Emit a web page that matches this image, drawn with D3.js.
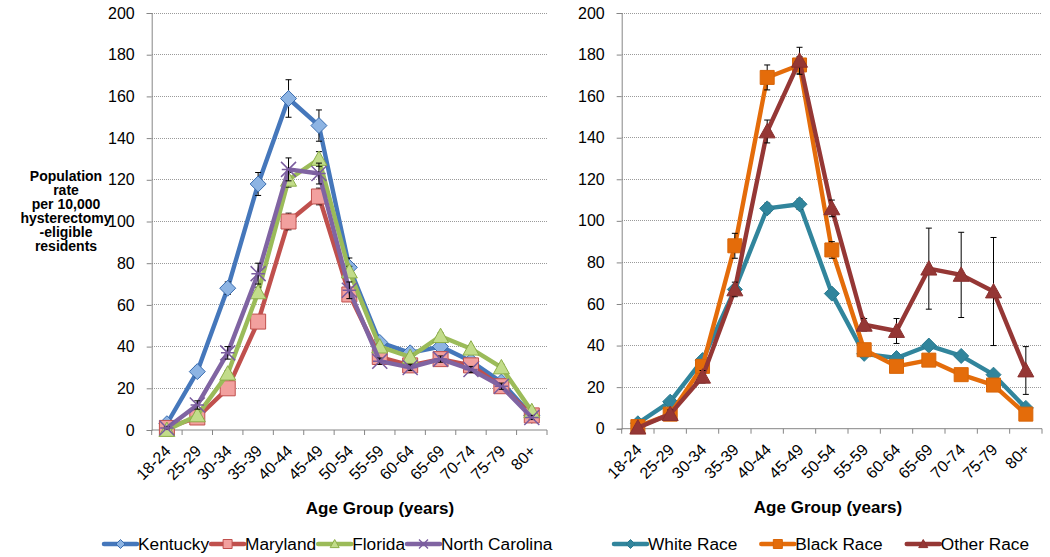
<!DOCTYPE html>
<html>
<head>
<meta charset="utf-8">
<script src="https://cdn.jsdelivr.net/npm/d3@7"></script>
<style>
  html, body { margin: 0; padding: 0; background: #fff; }
  svg { display: block; font-family: "Liberation Sans", Arial, sans-serif; }
</style>
</head>
<body>
<svg id="chart" width="1050" height="557"></svg>
<script>
// ---------------- DATA ----------------
const ageGroups = ["18-24","25-29","30-34","35-39","40-44","45-49","50-54","55-59","60-64","65-69","70-74","75-79","80+"];
const yTicks = [0, 20, 40, 60, 80, 100, 120, 140, 160, 180, 200];

const kentucky      = [3, 28, 68, 118, 159, 146, 78, 42, 37, 40, 33, 23, 7];
const maryland      = [1, 6, 20, 52, 100, 112, 65, 35, 31, 34, 31, 21, 7];
const florida       = [0, 7, 27, 66, 120, 130, 76, 40, 35, 45, 39, 30, 9];
const northCarolina = [1, 12, 37, 75, 125, 123, 67, 33, 30, 34, 29, 21, 6];

const kentuckyErr      = [1, 2.5, 3, 5.5, 9, 7.5, 4.5, 2, 2, 2, 2, 1.5, 1];
const marylandErr      = [0.5, 1, 2, 3, 4, 4, 3, 1.5, 1.5, 1.5, 1.5, 1.5, 1];
const floridaErr       = [0.5, 1, 1.5, 2.5, 3.5, 3.5, 2.5, 1.5, 1.5, 1.5, 1.5, 1.5, 0.5];
const northCarolinaErr = [0.5, 2, 3, 5, 5.5, 5, 4, 1.5, 1.5, 1.5, 1.5, 1.5, 1];

const whiteRace = [2.6, 13, 33, 67, 106, 108, 65, 36, 34, 40, 35, 26, 10];
const blackRace = [1, 7, 30, 88, 169, 175, 86, 38, 30, 33, 26, 21, 7];
const otherRace = [0.5, 7, 25, 67, 143, 177, 106, 50, 47, 77, 74, 66, 28];

const whiteRaceErr = [0.5, 1, 1.5, 2, 2.5, 2.5, 2, 1, 1, 1.5, 1.5, 1, 0.5];
const blackRaceErr = [0.5, 1.5, 2.5, 6, 6, 4, 4, 2, 2, 2.5, 2.5, 2.5, 1.5];
const otherRaceErr = [0.5, 2, 3, 3.5, 5.5, 6.5, 4, 3, 6, 19.5, 20.5, 26, 11.5];

const yAxisTitleLines = ["Population", "rate", "per 10,000", "hysterectomy", "-eligible", "residents"];
const xAxisTitle = "Age Group (years)";

// ---------------- STYLES ----------------
const leftSeries = [
  {name: "Kentucky", values: kentucky, err: kentuckyErr, line: "#4577BB", fill: "#8DB4E3", stroke: "#3A6DB0", shape: "diamond", size: 8},
  {name: "Maryland", values: maryland, err: marylandErr, line: "#C0504D", fill: "#F2A09E", stroke: "#C0504D", shape: "square", size: 7.5},
  {name: "Florida", values: florida, err: floridaErr, line: "#9BBB59", fill: "#C2DC8A", stroke: "#8CAE48", shape: "triangle", size: 8},
  {name: "North Carolina", values: northCarolina, err: northCarolinaErr, line: "#8064A2", fill: "none", stroke: "#7A5C9E", shape: "x", size: 7.5}
];
const rightSeries = [
  {name: "White Race", values: whiteRace, err: whiteRaceErr, line: "#31859C", fill: "#31859C", stroke: "#2A7A90", shape: "diamond", size: 7.5},
  {name: "Black Race", values: blackRace, err: blackRaceErr, line: "#E46C0A", fill: "#E46C0A", stroke: "#D86508", shape: "square", size: 7},
  {name: "Other Race", values: otherRace, err: otherRaceErr, line: "#953735", fill: "#953735", stroke: "#8A302E", shape: "triangle", size: 8}
];

const svg = d3.select("#chart");
svg.append("rect").attr("width", 1050).attr("height", 557).attr("fill", "#fff");

function markerPath(shape, s) {
  switch (shape) {
    case "diamond": return `M0,${-s}L${s},0L0,${s}L${-s},0Z`;
    case "square": return `M${-s},${-s}H${s}V${s}H${-s}Z`;
    case "triangle": return `M0,${-s}L${s},${s*0.8}L${-s},${s*0.8}Z`;
    case "x": return `M${-s},${-s}L${s},${s}M${-s},${s}L${s},${-s}M${-s*0.9},0H${s*0.9}`;
  }
}

function drawPanel(opts) {
  const {x0, x1, yTop, yBottom, series} = opts;
  const x = d3.scaleBand().domain(ageGroups).range([x0, x1]).padding(0);
  const y = d3.scaleLinear().domain([0, 200]).range([yBottom, yTop]);
  const g = svg.append("g");

  // gridlines
  g.append("g").selectAll("line").data(yTicks.filter(d => d > 0)).join("line")
    .attr("x1", x0).attr("x2", x1)
    .attr("y1", d => y(d)).attr("y2", d => y(d))
    .attr("stroke", "#9a9a9a").attr("stroke-width", 1)
    .attr("stroke-dasharray", "1,1").attr("shape-rendering", "crispEdges");

  // y axis
  const ya = g.append("g").attr("transform", `translate(${x0},0)`)
    .call(d3.axisLeft(y).tickValues(yTicks).tickSize(5).tickPadding(12));
  ya.select(".domain").attr("stroke", "#868686");
  ya.selectAll(".tick line").attr("stroke", "#868686");
  ya.selectAll(".tick text").attr("font-size", 16).attr("fill", "#000")
    .attr("font-family", '"Liberation Sans", Arial, sans-serif');

  // x axis line and boundary ticks
  g.append("line").attr("x1", x0).attr("x2", x1).attr("y1", y(0)).attr("y2", y(0))
    .attr("stroke", "#868686");
  const bounds = ageGroups.map(d => x(d)).concat([x(ageGroups[ageGroups.length-1]) + x.bandwidth()]);
  g.append("g").selectAll("line").data(bounds).join("line")
    .attr("x1", d => d).attr("x2", d => d)
    .attr("y1", y(0)).attr("y2", y(0) + 5)
    .attr("stroke", "#868686");

  // x tick labels, rotated
  g.append("g").selectAll("text").data(ageGroups).join("text")
    .attr("transform", d => `translate(${x(d) + x.bandwidth()/2 + 5},${y(0) + 22}) rotate(-45)`)
    .attr("text-anchor", "end")
    .attr("font-size", 16)
    .attr("fill", "#000")
    .text(d => d);

  // x axis title
  g.append("text")
    .attr("x", opts.titleX).attr("y", opts.titleY)
    .attr("text-anchor", "middle")
    .attr("font-size", 17).attr("font-weight", "bold")
    .text(xAxisTitle);

  const cx = d => x(d) + x.bandwidth()/2;

  series.forEach(s => {
    const pts = ageGroups.map((a, i) => ({a, v: s.values[i], e: s.err[i]}));
    const line = d3.line().x(d => cx(d.a)).y(d => y(d.v));
    const sg = g.append("g");
    sg.append("path").datum(pts)
      .attr("d", line)
      .attr("fill", "none")
      .attr("stroke", s.line)
      .attr("stroke-width", 4.4)
      .attr("stroke-linejoin", "round")
      .attr("stroke-linecap", "round");
    // error bars (under markers)
    const eg = sg.append("g").attr("stroke", "#000").attr("stroke-width", 1);
    pts.forEach(d => {
      const xc = cx(d.a), yt = y(d.v + d.e), yb = y(Math.max(0, d.v - d.e));
      eg.append("line").attr("x1", xc).attr("x2", xc).attr("y1", yt).attr("y2", yb);
      eg.append("line").attr("x1", xc - 3).attr("x2", xc + 3).attr("y1", yt).attr("y2", yt);
      eg.append("line").attr("x1", xc - 3).attr("x2", xc + 3).attr("y1", yb).attr("y2", yb);
    });
    // markers
    sg.selectAll("path.mk").data(pts).join("path").attr("class", "mk")
      .attr("transform", d => `translate(${cx(d.a)},${y(d.v)})`)
      .attr("d", markerPath(s.shape, s.size))
      .attr("fill", s.fill)
      .attr("stroke", s.stroke)
      .attr("stroke-width", s.shape === "x" ? 1.5 : 1);
  });

  // legend
  const lg = g.append("g");
  let lx = opts.legendX;
  const ly = opts.legendY;
  series.forEach(s => {
    const item = lg.append("g").attr("transform", `translate(${lx},${ly})`);
    item.append("line").attr("x1", 0).attr("x2", 33).attr("y1", 0).attr("y2", 0)
      .attr("stroke", s.line).attr("stroke-width", 4.5).attr("stroke-linecap", "round");
    item.append("path").attr("transform", "translate(16.5,0)")
      .attr("d", markerPath(s.shape, 4.5))
      .attr("fill", s.fill).attr("stroke", s.stroke).attr("stroke-width", s.shape === "x" ? 1.3 : 1);
    const t = item.append("text").attr("x", 34).attr("y", 6)
      .attr("font-size", 17.3).attr("fill", "#000").text(s.name);
    const w = t.node().getComputedTextLength();
    lx += 34 + w + opts.legendGap;
  });
}

drawPanel({x0: 151.7, x1: 547, yTop: 13, yBottom: 430, series: leftSeries,
  titleX: 380, titleY: 514, legendX: 104, legendY: 544, legendGap: 2});
drawPanel({x0: 621.7, x1: 1042, yTop: 13, yBottom: 428.7, series: rightSeries,
  titleX: 828, titleY: 513, legendX: 614, legendY: 544, legendGap: 24});

// y axis title (left)
const yt = svg.append("text").attr("text-anchor", "middle")
  .attr("font-size", 14).attr("font-weight", "bold").attr("fill", "#000");
yAxisTitleLines.forEach((l, i) => {
  yt.append("tspan").attr("x", 66).attr("y", 180.5 + i * 14).text(l);
});
</script>
</body>
</html>
